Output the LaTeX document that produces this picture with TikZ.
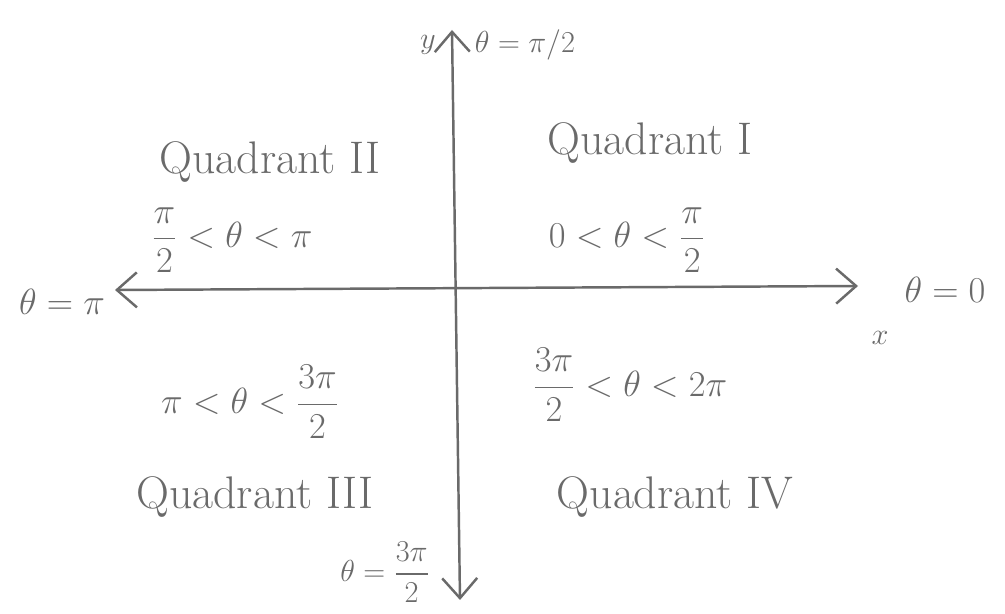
\documentclass[tikz,border=0pt]{standalone}
\usepackage{xcolor}
\usepackage{tikz}
\usepackage{amsmath}
\usetikzlibrary{arrows.meta, positioning}
\definecolor{pencil}{HTML}{6A6A6A}
\tikzstyle{axis} = [draw=pencil, line width=1.4pt, {Straight Barb[length=4mm, width=7mm]}-{Straight Barb[length=4mm, width=7mm]}]
\tikzstyle{quadname} = [text=pencil, font=\fontsize{26}{30}\selectfont]
\tikzstyle{rangetext} = [text=pencil, font=\fontsize{20}{24}\selectfont]
\tikzstyle{anglelabel} = [text=pencil, font=\fontsize{18}{22}\selectfont]

\begin{document}
\begin{tikzpicture}[x=0.02cm, y=-0.02cm]
    \useasboundingbox (0,0) rectangle (1005,614);
    \fill[white] (0,0) rectangle (1005,614);

    % axes
    \coordinate (west) at (115,290);
    \coordinate (east) at (858,286);
    \coordinate (north) at (452,30);
    \coordinate (south) at (460,600);
    \draw[axis] (west) -- (east);
    \draw[axis] (south) -- (north);

    % axis names and angles
    \node (ylab) [anglelabel] at (428,45) {$y$};
    \node (xlab) [anglelabel] at (880,338) {$x$};
    \node (half) [anglelabel] at (525,45) {$\theta=\pi/2$};
    \node (zero) [anglelabel, font=\fontsize{22}{26}\selectfont] at (945,290) {$\theta=0$};
    \node (pi) [anglelabel, font=\fontsize{22}{26}\selectfont] at (62,302) {$\theta=\pi$};
    \node (threehalf) [anglelabel] at (385,572) {$\theta=\dfrac{3\pi}{2}$};

    % quadrants
    \node (q1) [quadname] at (650,143) {Quadrant I};
    \node (r1) [rangetext] at (627,240) {$0<\theta<\dfrac{\pi}{2}$};
    \node (q2) [quadname] at (270,162) {Quadrant II};
    \node (r2) [rangetext] at (232,240) {$\dfrac{\pi}{2}<\theta<\pi$};
    \node (r3) [rangetext] at (250,402) {$\pi<\theta<\dfrac{3\pi}{2}$};
    \node (q3) [quadname] at (255,497) {Quadrant III};
    \node (r4) [rangetext] at (630,385) {$\dfrac{3\pi}{2}<\theta<2\pi$};
    \node (q4) [quadname] at (675,497) {Quadrant IV};
\end{tikzpicture}
\end{document}
